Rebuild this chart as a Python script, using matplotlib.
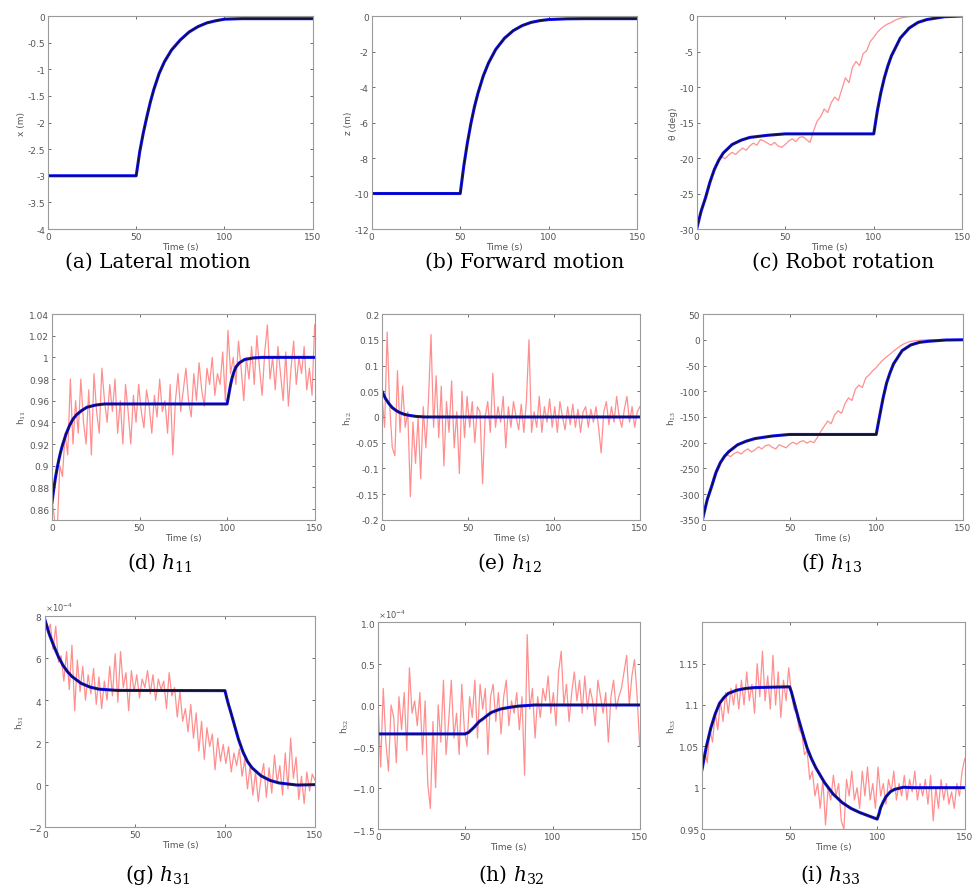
import numpy as np
import matplotlib
matplotlib.use("Agg")
import matplotlib.pyplot as plt
from matplotlib.ticker import FormatStrFormatter

plt.rcParams['axes.unicode_minus'] = False
plt.rcParams['mathtext.fontset'] = 'dejavuserif'

# (a) lateral motion x (m)
ta = [0, 50, 52, 54, 56, 58, 60, 63, 66, 70, 75, 80, 85, 90, 95, 100, 110, 120, 150]
xa = [-3, -3, -2.55, -2.2, -1.9, -1.62, -1.38, -1.08, -0.86, -0.64, -0.45, -0.30, -0.20,
      -0.13, -0.09, -0.06, -0.05, -0.05, -0.05]
xa_meas = [-3.0, -3.0, -2.52, -2.17, -1.87, -1.6, -1.36, -1.06, -0.84, -0.62, -0.43, -0.29,
           -0.19, -0.12, -0.08, -0.05, -0.04, -0.04, -0.04]

# (b) forward motion z (m)
tb = [0, 50, 52, 54, 56, 58, 60, 63, 66, 70, 75, 80, 85, 90, 95, 100, 110, 120, 150]
zb = [-10, -10, -8.46, -7.17, -6.07, -5.13, -4.35, -3.38, -2.64, -1.89, -1.25, -0.82, -0.54,
      -0.36, -0.26, -0.2, -0.16, -0.15, -0.15]
zb_meas = [-10.05, -10.05, -8.4, -7.1, -6.0, -5.07, -4.3, -3.33, -2.6, -1.86, -1.22, -0.8,
           -0.52, -0.34, -0.24, -0.18, -0.14, -0.13, -0.13]

# (c) robot rotation (deg)
tc = [0, 2.5, 5, 7.5, 10, 12.5, 15, 20, 25, 30, 40, 50, 100, 102, 104, 106, 108, 110, 115,
      120, 125, 130, 140, 150]
thc = [-30, -27.5, -25.6, -23.4, -21.6, -20.3, -19.3, -18.1, -17.5, -17.1, -16.8, -16.6, -16.6,
       -13.4, -10.8, -8.7, -7.0, -5.6, -3.1, -1.7, -0.9, -0.5, -0.1, 0]
tc_meas = [0, 2, 4, 6, 8, 10, 12, 14, 16, 18, 20, 22, 24, 26, 28, 30, 32, 34, 36, 38, 40, 42,
           44, 46, 48, 50, 52, 54, 56, 58, 60, 62, 64, 66, 68, 70, 72, 74, 76, 78, 80, 82, 84,
           86, 88, 90, 92, 94, 96, 98, 100, 102, 104, 106, 108, 110, 112, 114, 116, 118, 120,
           125, 130, 150]
thc_meas = [-30, -28.2, -26.3, -24.4, -22.8, -21.5, -20.4, -19.8, -20.1, -19.6, -19.2, -19.5,
            -19.0, -18.6, -18.9, -18.3, -17.9, -18.2, -17.4, -17.6, -17.9, -18.2, -17.8, -18.3,
            -18.5, -18.1, -17.6, -17.3, -17.7, -17.1, -17.0, -17.4, -17.8, -16.2, -14.8, -14.2,
            -13.1, -13.6, -12.2, -11.4, -11.9, -10.3, -8.7, -9.4, -7.2, -6.4, -7.0, -5.3, -4.9,
            -3.6, -3.0, -2.3, -1.8, -1.4, -1.1, -0.9, -0.6, -0.4, -0.25, -0.15, -0.08, -0.03,
            0, 0]

# (d) h11
td = [0, 1, 2, 3, 4, 5, 6, 8, 10, 12, 14, 17, 20, 25, 30, 100, 101, 102, 103, 104, 105, 107,
      110, 115, 120, 150]
hd = [0.866, 0.878, 0.889, 0.898, 0.906, 0.913, 0.919, 0.929, 0.937, 0.943, 0.947, 0.951,
      0.954, 0.956, 0.957, 0.957, 0.966, 0.975, 0.982, 0.987, 0.991, 0.995, 0.998, 0.9995,
      1.0, 1.0]
hd_meas = [0.87, 0.85, 0.84, 0.90, 0.89, 0.93, 0.91, 0.98, 0.92, 0.96, 0.93, 0.98, 0.94, 0.92,
           0.97, 0.91, 0.985, 0.95, 0.93, 0.99, 0.96, 0.94, 0.975, 0.95, 0.98, 0.93, 0.96, 0.92,
           0.975, 0.95, 0.92, 0.965, 0.94, 0.975, 0.95, 0.935, 0.97, 0.955, 0.93, 0.965, 0.945,
           0.98, 0.95, 0.96, 0.93, 0.975, 0.91, 0.96, 0.985, 0.95, 0.97, 0.99, 0.96, 0.945,
           0.985, 0.96, 0.995, 0.97, 0.955, 0.99, 0.975, 1.0, 0.965, 0.985, 0.975, 1.005, 0.96,
           1.025, 0.985, 1.0, 0.975, 1.015, 0.99, 0.96, 1.0, 0.98, 1.01, 0.975, 1.02, 0.99,
           0.965, 1.005, 1.03, 0.98, 1.0, 0.97, 1.01, 0.985, 0.96, 1.005, 0.955, 0.99, 1.015,
           0.975, 1.0, 0.985, 1.01, 0.97, 0.99, 0.965, 1.03]

# (e) h12
te = [0, 2, 4, 6, 8, 10, 13, 16, 20, 25, 150]
he = [0.05, 0.036, 0.026, 0.018, 0.013, 0.009, 0.005, 0.003, 0.001, 0.0, 0.0]
he_meas = [0.04, -0.02, 0.165, 0.02, -0.06, -0.075, 0.09, -0.03, 0.06, -0.02, 0.01, -0.155,
           -0.01, -0.09, 0.0, -0.12, 0.02, -0.06, 0.03, 0.16, -0.02, 0.08, -0.04, 0.06, -0.095,
           0.03, -0.03, 0.07, -0.06, 0.01, -0.11, 0.05, -0.04, 0.04, -0.02, 0.03, -0.05, 0.02,
           0.01, -0.13, 0.0, 0.03, -0.03, 0.085, -0.02, 0.02, -0.01, 0.04, -0.06, 0.02, -0.02,
           0.03, 0.0, -0.025, 0.025, -0.03, 0.03, 0.15, -0.03, 0.01, -0.02, 0.04, -0.03, 0.02,
           -0.01, 0.035, -0.02, 0.02, -0.03, 0.03, 0.0, -0.025, 0.02, -0.015, 0.025, -0.02,
           0.015, -0.03, 0.01, 0.02, -0.02, 0.015, -0.01, 0.02, -0.02, -0.07, 0.01, 0.03,
           -0.015, 0.02, -0.01, 0.04, 0.0, -0.02, 0.015, 0.04, -0.01, 0.02, -0.02, 0.01, 0.02]

# (f) h13
tf = [0, 2.5, 5, 7.5, 10, 12.5, 15, 20, 25, 30, 40, 50, 100, 102, 104, 106, 108, 110, 115,
      120, 125, 130, 140, 150]
hf = [-345, -310, -285, -258, -239, -226, -217, -204, -197, -192, -187, -184, -184, -148, -113,
      -84, -64, -47, -21, -10, -5, -3, -0.5, 0]
tf_meas = tc_meas
hf_meas = [-345, -318, -292, -268, -250, -238, -229, -224, -227, -221, -218, -222, -216, -212,
           -218, -214, -208, -212, -206, -204, -209, -212, -204, -207, -210, -203, -199, -203,
           -198, -196, -201, -197, -200, -190, -178, -168, -158, -163, -146, -138, -143, -124,
           -113, -118, -96, -88, -93, -74, -68, -60, -54, -46, -39, -33, -28, -22, -17, -12,
           -8, -5, -3, -1, 0, 0]

# (g) h31 (x 1e-4)
tg = [0, 2.5, 5, 7.5, 10, 12.5, 15, 20, 25, 30, 40, 100, 101, 102, 103, 105, 107.5, 110, 112.5,
      115, 120, 125, 130, 140, 150]
hg = [7.8, 7.1, 6.55, 6.05, 5.65, 5.35, 5.12, 4.8, 4.62, 4.52, 4.46, 4.45, 4.1, 3.78, 3.5,
      2.9, 2.15, 1.55, 1.1, 0.8, 0.42, 0.2, 0.08, -0.02, 0.0]
hg_meas = [7.9, 7.2, 7.6, 6.4, 7.5, 5.8, 6.1, 4.9, 6.3, 4.5, 6.6, 3.5, 5.9, 4.4, 5.6, 4.0, 5.2,
           4.3, 5.5, 3.8, 5.1, 3.6, 4.9, 4.0, 5.6, 4.2, 6.2, 3.9, 6.3, 4.6, 5.3, 3.5, 5.4, 4.4,
           5.2, 4.1, 5.0, 4.6, 5.4, 4.3, 5.2, 4.0, 5.0, 4.5, 4.9, 3.6, 5.3, 4.2, 4.6, 3.2, 4.4,
           3.0, 3.6, 2.5, 3.8, 2.2, 3.4, 1.6, 3.0, 1.2, 2.7, 1.8, 2.4, 0.7, 2.2, 1.1, 1.9, 1.0,
           1.8, 0.6, 1.5, 0.9, 1.7, 0.4, 1.2, -0.2, 0.9, -0.5, 0.6, -0.8, 0.3, 1.0, -0.6, 0.8,
           -0.4, 1.4, 0.1, 0.9, -0.5, 1.5, -0.2, 2.2, 0.3, 1.3, -0.7, 0.4, -0.9, 0.6, -0.3,
           0.5, 0.2]

# (h) h32 (x 1e-4)
th = [0, 50, 52, 55, 58, 60, 63, 65, 70, 75, 80, 85, 90, 150]
hh = [-0.35, -0.35, -0.33, -0.27, -0.2, -0.17, -0.12, -0.09, -0.05, -0.03, -0.015, -0.007,
      0.0, 0.0]
hh_meas = [0.05, -0.75, 0.2, -0.45, -0.8, 0.0, -0.15, -0.7, 0.1, -0.3, 0.15, -0.55, 0.45, -0.1,
           0.05, -0.25, 0.15, -0.6, 0.05, -0.95, -1.25, -0.2, -1.0, 0.0, -0.45, 0.3, -0.6,
           -0.2, 0.3, -0.4, -0.1, -0.6, 0.25, -0.3, -0.5, 0.1, -0.15, 0.3, -0.4, 0.25, -0.05,
           0.2, -0.6, 0.1, 0.25, -0.2, 0.15, -0.35, 0.1, 0.3, -0.25, 0.05, -0.1, 0.15, -0.3,
           0.1, -0.85, 0.85, -0.05, 0.2, -0.4, 0.1, -0.15, 0.2, 0.05, 0.35, -0.1, 0.15, -0.25,
           0.4, 0.65, 0.0, 0.25, -0.2, 0.15, 0.4, 0.05, 0.3, -0.1, 0.35, -0.05, 0.2, 0.05,
           -0.25, 0.3, 0.1, -0.1, 0.15, -0.45, 0.1, 0.3, -0.05, 0.1, 0.2, 0.4, 0.6, 0.0, 0.35,
           0.55, 0.1, -0.5]

# (i) h33
ti = [0, 2.5, 5, 7.5, 10, 12.5, 15, 20, 25, 30, 50, 51, 52, 55, 58, 60, 62.5, 65, 70, 75, 80,
      85, 90, 95, 100, 101, 102, 103.5, 105, 107.5, 110, 115, 120, 150]
hi = [1.022, 1.05, 1.072, 1.089, 1.102, 1.109, 1.114, 1.118, 1.12, 1.121, 1.122, 1.116, 1.108,
      1.084, 1.062, 1.048, 1.035, 1.024, 1.006, 0.992, 0.982, 0.975, 0.97, 0.966, 0.962,
      0.968, 0.976, 0.983, 0.989, 0.995, 0.998, 1.0005, 1.0, 1.0]
hi_meas = [1.02, 1.045, 1.03, 1.07, 1.055, 1.09, 1.07, 1.105, 1.08, 1.115, 1.09, 1.12, 1.1,
           1.125, 1.095, 1.13, 1.1, 1.14, 1.105, 1.125, 1.09, 1.15, 1.11, 1.165, 1.105, 1.135,
           1.095, 1.16, 1.1, 1.14, 1.085, 1.13, 1.105, 1.145, 1.115, 1.095, 1.09, 1.07, 1.065,
           1.04, 1.045, 1.01, 1.02, 0.99, 1.005, 0.975, 1.01, 0.955, 1.0, 0.985, 1.015, 0.99,
           1.005, 0.96, 0.95, 1.01, 0.99, 1.02, 0.985, 1.0, 0.975, 1.02, 0.99, 1.025, 0.985,
           1.005, 0.975, 1.025, 0.99, 1.005, 0.98, 1.01, 0.995, 1.02, 0.985, 1.005, 0.99,
           1.015, 0.985, 1.01, 0.995, 1.02, 0.985, 1.005, 0.99, 1.01, 0.98, 1.015, 0.96, 1.0,
           0.975, 1.01, 0.985, 1.005, 0.98, 0.995, 0.975, 1.005, 0.99, 1.02, 1.035]

captions = ["(a) Lateral motion", "(b) Forward motion", "(c) Robot rotation",
            r"(d) $h_{11}$", r"(e) $h_{12}$", r"(f) $h_{13}$",
            r"(g) $h_{31}$", r"(h) $h_{32}$", r"(i) $h_{33}$"]
ylabels = ["x (m)", "z (m)", "θ (deg)", r"h$_{11}$", r"h$_{12}$", r"h$_{13}$",
           r"h$_{31}$", r"h$_{32}$", r"h$_{33}$"]

ylims = [(-4, 0), (-12, 0), (-30, 0), (0.85, 1.04), (-0.2, 0.2), (-350, 50),
         (-2, 8), (-1.5, 1), (0.95, 1.2)]
yticks = [[-4, -3.5, -3, -2.5, -2, -1.5, -1, -0.5, 0],
          [-12, -10, -8, -6, -4, -2, 0],
          [-30, -25, -20, -15, -10, -5, 0],
          [0.86, 0.88, 0.9, 0.92, 0.94, 0.96, 0.98, 1.0, 1.02, 1.04],
          [-0.2, -0.15, -0.1, -0.05, 0, 0.05, 0.1, 0.15, 0.2],
          [-350, -300, -250, -200, -150, -100, -50, 0, 50],
          [-2, 0, 2, 4, 6, 8],
          [-1.5, -1, -0.5, 0, 0.5, 1],
          [0.95, 1.0, 1.05, 1.1, 1.15]]


def noisy_t(v):
    return np.linspace(0, 150, len(v))


panels = [
    (ta, xa_meas, ta, xa, 1),
    (tb, zb_meas, tb, zb, 1),
    (tc_meas, thc_meas, tc, thc, 1),
    (noisy_t(hd_meas), hd_meas, td, hd, 1),
    (noisy_t(he_meas), he_meas, te, he, 1),
    (tf_meas, hf_meas, tf, hf, 1),
    (noisy_t(hg_meas), hg_meas, tg, hg, 1e-4),
    (noisy_t(hh_meas), hh_meas, th, hh, 1e-4),
    (noisy_t(hi_meas), hi_meas, ti, hi, 1),
]

# axes boxes in figure fraction
boxes = [
    [0.0493, 0.743, 0.272, 0.238], [0.382, 0.743, 0.273, 0.238], [0.716, 0.743, 0.273, 0.238],
    [0.0534, 0.418, 0.270, 0.230], [0.3926, 0.418, 0.265, 0.230], [0.7225, 0.418, 0.267, 0.230],
    [0.0462, 0.075, 0.2775, 0.236], [0.3885, 0.0726, 0.269, 0.231], [0.7215, 0.0726, 0.270, 0.231],
]
cap_pos = [(158, 262), (525, 262), (843, 262),
           (160, 563), (510, 563), (832, 563),
           (158, 875), (511, 875), (830, 875)]

fig = plt.figure(figsize=(9.73, 8.95), dpi=100)
gray = '#9a9a9a'
for i, (tm, ym, ts, ys, sc) in enumerate(panels):
    ax = fig.add_axes(boxes[i])
    lo, hi_ = ylims[i]
    ax.plot(tm, np.array(ym) * sc, color='#ff6a6a', lw=0.9, alpha=0.75)
    ax.plot(ts, np.array(ys) * sc, color='#1010ff', lw=2.2)
    ax.plot(ts, np.array(ys) * sc, color='#101030', lw=1.0)
    ax.set_xlim(0, 150)
    ax.set_ylim(lo * sc, hi_ * sc)
    ax.set_xticks([0, 50, 100, 150])
    ax.set_yticks([v * sc for v in yticks[i]])
    if sc != 1:
        ax.ticklabel_format(axis='y', style='sci', scilimits=(0, 0), useMathText=True)
        ax.yaxis.get_offset_text().set_fontsize(6)
        ax.yaxis.get_offset_text().set_color('#555555')
    else:
        ax.yaxis.set_major_formatter(FormatStrFormatter('%g'))
    ax.tick_params(direction='in', length=2.5, width=0.6, labelsize=6.5,
                   colors='#555555', top=True, right=True, pad=2)
    for s in ax.spines.values():
        s.set_color(gray)
        s.set_linewidth(0.8)
    ax.set_xlabel("Time (s)", fontsize=6.5, color='#555555', labelpad=1)
    ax.set_ylabel(ylabels[i], fontsize=6.5, color='#555555', labelpad=1)
    x, y = cap_pos[i]
    fig.text(x / 973, 1 - y / 895, captions[i], ha='center', va='center',
             fontsize=14.5, family='DejaVu Serif')

fig.savefig("out.png", dpi=100)
